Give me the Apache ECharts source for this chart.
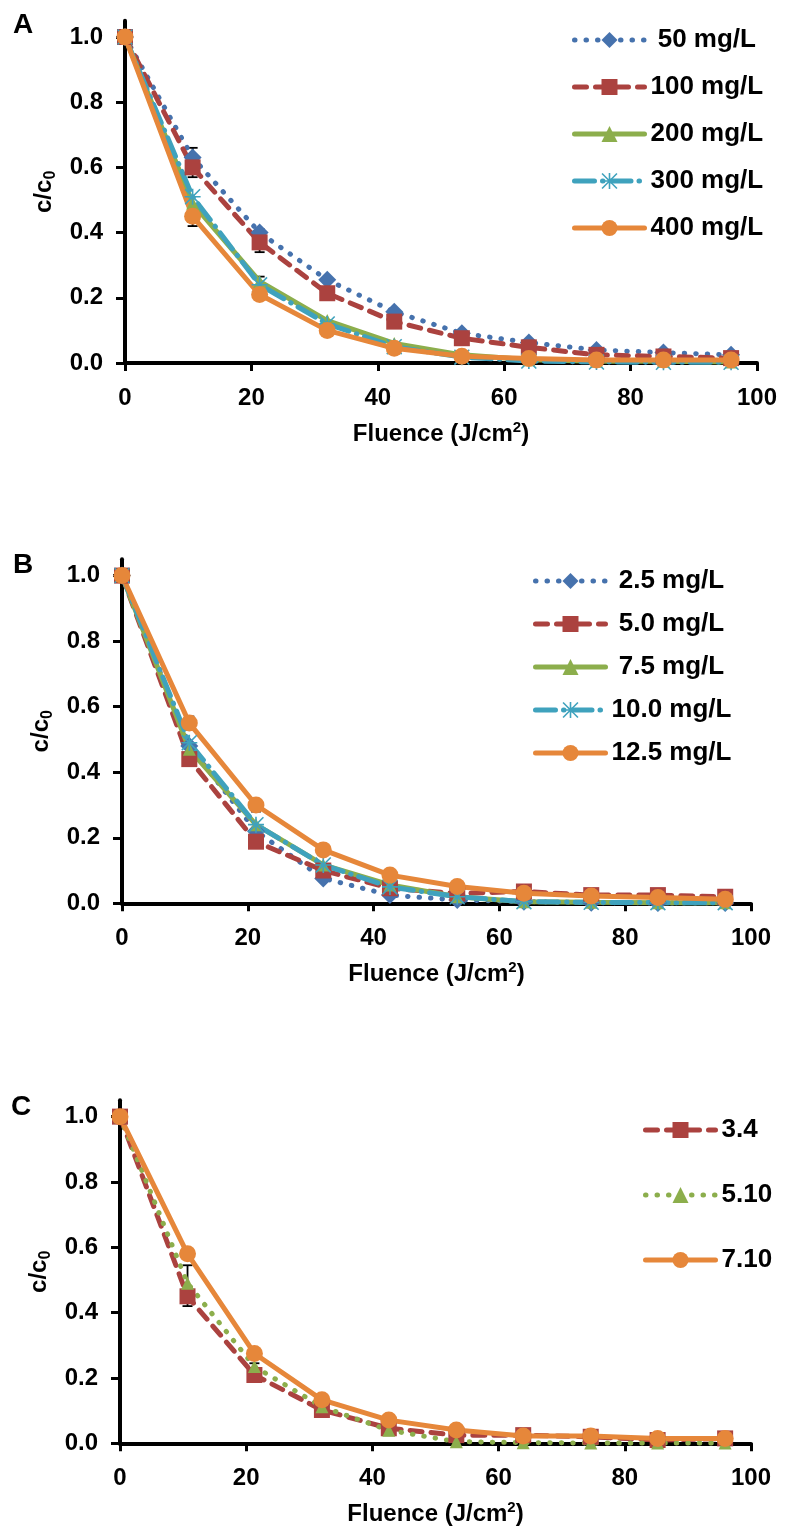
<!DOCTYPE html>
<html>
<head>
<meta charset="utf-8">
<script src="https://cdn.jsdelivr.net/npm/echarts@6/dist/echarts.min.js"></script>
<style>
  html, body { margin: 0; padding: 0; background: #fff; }
  #chart { width: 785px; height: 1532px; }
</style>
</head>
<body>
<div id="chart"></div>
<script>
// fluence doses shared by all three panels
var fluence = [0, 10.7, 21.3, 32.0, 42.6, 53.3, 63.9, 74.6, 85.2, 95.9];
var xTicks = [0, 20, 40, 60, 80, 100];
var yTicks = [0, 0.2, 0.4, 0.6, 0.8, 1.0];

// panel A
var namesA = [' 50 mg/L', '100 mg/L', '200 mg/L', '300 mg/L', '400 mg/L'];
var a50 = [1.0, 0.63, 0.40, 0.255, 0.157, 0.091, 0.063, 0.04, 0.032, 0.025];
var a100 = [1.0, 0.60, 0.37, 0.214, 0.127, 0.076, 0.048, 0.025, 0.02, 0.015];
var a200 = [1.0, 0.49, 0.25, 0.13, 0.06, 0.025, 0.01, 0.005, 0.005, 0.003];
var a300 = [1.0, 0.51, 0.24, 0.12, 0.05, 0.018, 0.006, 0.003, 0.002, 0.002];
var a400 = [1.0, 0.45, 0.21, 0.10, 0.045, 0.021, 0.014, 0.009, 0.009, 0.009];
var errA = [[10.7, 0.57, 0.66], [10.7, 0.42, 0.48], [21.3, 0.34, 0.41], [21.3, 0.235, 0.265]];

// panel B
var namesB = [' 2.5 mg/L', ' 5.0 mg/L', ' 7.5 mg/L', '10.0 mg/L', '12.5 mg/L'];
var b25 = [1.0, 0.48, 0.22, 0.076, 0.025, 0.01, 0.005, 0.002, 0.001, 0.001];
var b50 = [1.0, 0.44, 0.188, 0.10, 0.046, 0.03, 0.036, 0.025, 0.025, 0.02];
var b75 = [1.0, 0.47, 0.24, 0.117, 0.056, 0.02, 0.005, 0.003, 0.002, 0.002];
var b100 = [1.0, 0.49, 0.24, 0.117, 0.05, 0.02, 0.005, 0.003, 0.002, 0.002];
var b125 = [1.0, 0.55, 0.30, 0.163, 0.086, 0.051, 0.031, 0.022, 0.018, 0.012];
var errB = [[10.7, 0.53, 0.57], [21.3, 0.28, 0.31]];

// panel C
var namesC = ['3.4', '5.10', '7.10'];
var c34 = [1.0, 0.45, 0.209, 0.102, 0.046, 0.025, 0.025, 0.02, 0.01, 0.015];
var c510 = [1.0, 0.49, 0.235, 0.112, 0.04, 0.005, 0.002, 0.001, 0.001, 0.001];
var c710 = [1.0, 0.58, 0.275, 0.133, 0.071, 0.041, 0.022, 0.022, 0.015, 0.015];
var errC = [[10.7, 0.42, 0.545], [21.3, 0.22, 0.245]];

var BLUE = '#4672ad', RED = '#ab423f', GREEN = '#8cae4c', TEAL = '#3fa2bd', ORANGE = '#e6873a';
var FONT = '"Liberation Sans", Arial, sans-serif';
var asterisk = 'path://M9,0L11,0L11,20L9,20Z M0,9L20,9L20,11L0,11Z M0,1.4L1.4,0L20,18.6L18.6,20Z M18.6,0L20,1.4L1.4,20L0,18.6Z';

var styles = {
  dot: { type: [0.5, 11], cap: 'round', width: 5 },
  dash: { type: [12, 9], cap: 'round', width: 5 },
  solid: { type: 'solid', cap: 'round', width: 5 },
  dashdot: { type: [20, 8, 0.5, 8], cap: 'round', width: 5 }
};

function pairs(ys) {
  return ys.map(function (y, i) { return [fluence[i], y]; });
}

function line(name, ys, idx, color, ls, symbol, size) {
  return {
    name: name,
    type: 'line',
    xAxisIndex: idx,
    yAxisIndex: idx,
    data: pairs(ys),
    symbol: symbol,
    symbolSize: size,
    clip: false,
    color: color,
    itemStyle: { color: color },
    lineStyle: Object.assign({ color: color }, ls),
    emphasis: { disabled: true },
    z: 3
  };
}

function errBars(data, idx) {
  return {
    type: 'custom',
    xAxisIndex: idx,
    yAxisIndex: idx,
    data: data,
    encode: { x: 0, y: [1, 2] },
    z: 2,
    silent: true,
    clip: false,
    renderItem: function (params, api) {
      var lo = api.coord([api.value(0), api.value(1)]);
      var hi = api.coord([api.value(0), api.value(2)]);
      var w = 5;
      var st = { stroke: '#000', lineWidth: 1.8 };
      return {
        type: 'group',
        children: [
          { type: 'line', shape: { x1: lo[0], y1: lo[1], x2: hi[0], y2: hi[1] }, style: st },
          { type: 'line', shape: { x1: lo[0] - w, y1: lo[1], x2: lo[0] + w, y2: lo[1] }, style: st },
          { type: 'line', shape: { x1: hi[0] - w, y1: hi[1], x2: hi[0] + w, y2: hi[1] }, style: st }
        ]
      };
    }
  };
}

var grids = [
  { left: 125, width: 632, top: 20.7, height: 342.3 },
  { left: 122, width: 629, top: 559.2, height: 344.1 },
  { left: 120, width: 631, top: 1100.3, height: 343 }
];

function xAxis(idx) {
  return {
    type: 'value',
    gridIndex: idx,
    min: 0, max: 100, interval: 20,
    name: 'Fluence (J/cm{sup|2})',
    nameLocation: 'middle',
    nameGap: 57,
    nameTextStyle: {
      color: '#000', fontFamily: FONT, fontWeight: 'bold', fontSize: 24, lineHeight: 28,
      rich: { sup: { fontFamily: FONT, fontWeight: 'bold', fontSize: 15, lineHeight: 15, verticalAlign: 'top', color: '#000' } }
    },
    splitLine: { show: false },
    axisLine: { show: true, onZero: false, lineStyle: { color: '#000', width: 4 } },
    axisTick: { show: true, inside: false, length: 8, lineStyle: { color: '#000', width: 3 }, customValues: xTicks },
    axisLabel: { color: '#000', fontFamily: FONT, fontWeight: 'bold', fontSize: 24, margin: 23, customValues: xTicks }
  };
}

function yAxis(idx) {
  return {
    type: 'value',
    gridIndex: idx,
    min: 0, max: 1.05,
    name: 'c/c{sub|0}',
    nameLocation: 'middle',
    nameGap: 57,
    nameTextStyle: {
      color: '#000', fontFamily: FONT, fontWeight: 'bold', fontSize: 24, lineHeight: 28,
      rich: { sub: { fontFamily: FONT, fontWeight: 'bold', fontSize: 16, lineHeight: 16, verticalAlign: 'bottom', color: '#000' } }
    },
    splitLine: { show: false },
    axisLine: { show: true, onZero: false, lineStyle: { color: '#000', width: 4 } },
    axisTick: { show: true, inside: false, length: 9, lineStyle: { color: '#000', width: 3 }, customValues: yTicks },
    axisLabel: {
      color: '#000', fontFamily: FONT, fontWeight: 'bold', fontSize: 24, margin: 22,
      customValues: yTicks,
      formatter: function (v) { return v.toFixed(1); }
    }
  };
}

function legend(names, left, top, gap) {
  return {
    data: names,
    orient: 'vertical',
    left: left,
    top: top,
    itemWidth: 70,
    itemHeight: 20,
    itemGap: gap,
    selectedMode: false,
    lineStyle: { width: 5 },
    textStyle: { color: '#000', fontFamily: FONT, fontWeight: 'bold', fontSize: 26, padding: [0, 0, 0, 1] }
  };
}

var option = {
  backgroundColor: '#fff',
  animation: false,
  title: [
    { text: 'A', left: 8, top: 6, textStyle: { fontFamily: FONT, fontWeight: 'bold', fontSize: 28, color: '#000' } },
    { text: 'B', left: 8, top: 546, textStyle: { fontFamily: FONT, fontWeight: 'bold', fontSize: 28, color: '#000' } },
    { text: 'C', left: 6, top: 1088, textStyle: { fontFamily: FONT, fontWeight: 'bold', fontSize: 28, color: '#000' } }
  ],
  grid: grids,
  xAxis: [xAxis(0), xAxis(1), xAxis(2)],
  yAxis: [yAxis(0), yAxis(1), yAxis(2)],
  legend: [
    legend(namesA, 567, 22, 21),
    legend(namesB, 528, 563, 17),
    legend(namesC, 638, 1112, 39)
  ],
  series: [
    errBars(errA, 0),
    line(namesA[0], a50, 0, BLUE, styles.dot, 'diamond', 18),
    line(namesA[1], a100, 0, RED, styles.dash, 'rect', 16),
    line(namesA[2], a200, 0, GREEN, styles.solid, 'triangle', 13),
    line(namesA[3], a300, 0, TEAL, styles.dashdot, asterisk, 16),
    line(namesA[4], a400, 0, ORANGE, styles.solid, 'circle', 17),

    errBars(errB, 1),
    line(namesB[0], b25, 1, BLUE, styles.dot, 'diamond', 18),
    line(namesB[1], b50, 1, RED, styles.dash, 'rect', 16),
    line(namesB[2], b75, 1, GREEN, styles.solid, 'triangle', 13),
    line(namesB[3], b100, 1, TEAL, styles.dashdot, asterisk, 16),
    line(namesB[4], b125, 1, ORANGE, styles.solid, 'circle', 17),

    errBars(errC, 2),
    line(namesC[0], c34, 2, RED, styles.dash, 'rect', 16),
    line(namesC[1], c510, 2, GREEN, styles.dot, 'triangle', 13),
    line(namesC[2], c710, 2, ORANGE, styles.solid, 'circle', 17)
  ]
};

var chart = echarts.init(document.getElementById('chart'), null, { renderer: 'canvas' });
chart.setOption(option);
</script>
</body>
</html>
